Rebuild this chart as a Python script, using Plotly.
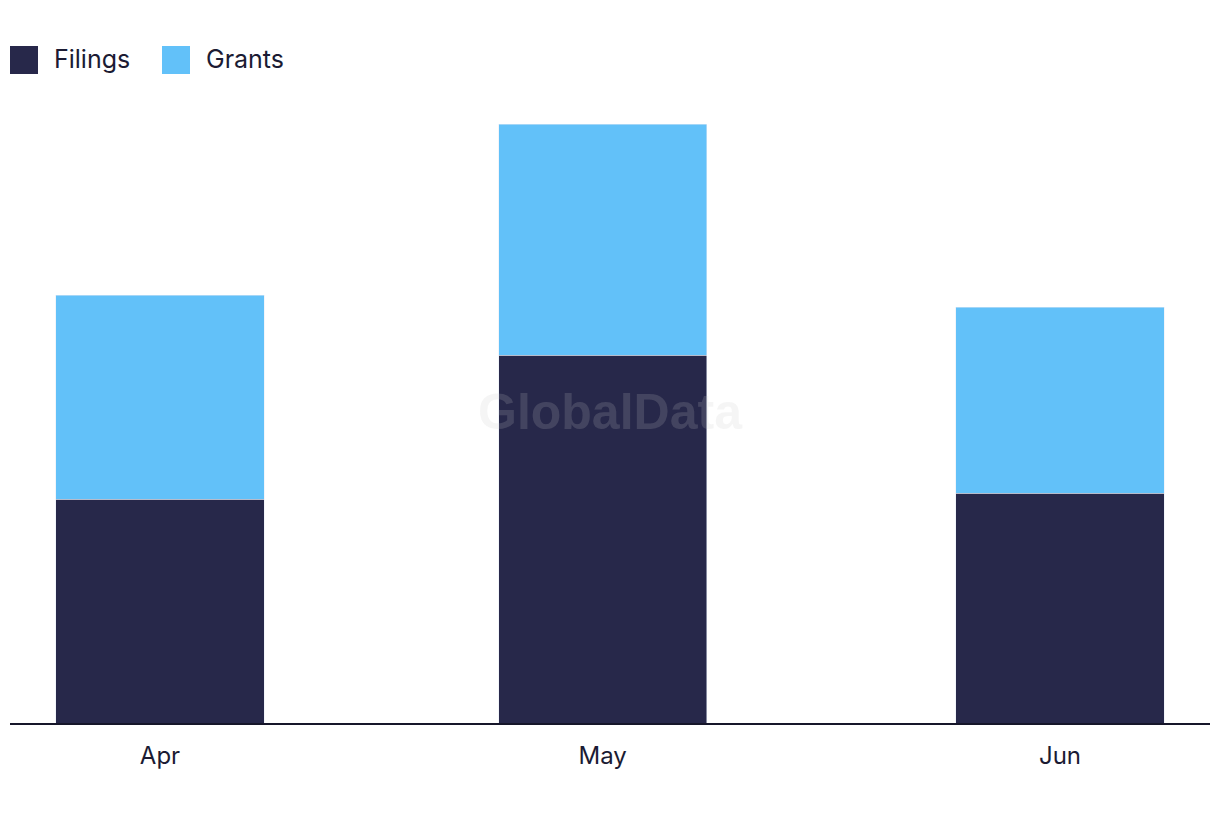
import plotly.graph_objects as go

months = ["2024-04-01", "2024-05-01", "2024-06-01"]
filings = [56, 92, 57.5]
grants = [51, 57.75, 46.5]

series_names = ["Filings", "Grants"]
colors = ["#27284A", "#62C1F9"]

DAY_MS = 86400000
bar_width = 14.1 * DAY_MS

fig = go.Figure()
fig.add_trace(go.Bar(x=months, y=filings, name=series_names[0], marker_color=colors[0],
                     width=bar_width, showlegend=False))
fig.add_trace(go.Bar(x=months, y=grants, name=series_names[1], marker_color=colors[1],
                     width=bar_width, showlegend=False))

font_family = "Inter, Lato, sans-serif"
text_color = "#1B1B33"

# custom legend with large squares (plot area spans page x 10..1210, y 100..723)
legend_x = [10, 162]
for i, (nm, col) in enumerate(zip(series_names, colors)):
    x0 = legend_x[i]
    fig.add_shape(type="rect", xref="paper", yref="paper",
                  x0=(x0 - 10) / 1200, x1=(x0 + 18) / 1200,
                  y0=(723 - 74) / 623, y1=(723 - 46) / 623,
                  fillcolor=col, line=dict(width=0))
    fig.add_annotation(xref="paper", yref="paper",
                       x=(x0 + 32) / 1200, y=(723 - 59) / 623,
                       xanchor="left", yanchor="middle", showarrow=False,
                       text=nm, font=dict(family=font_family, size=25, color=text_color))

# watermark
fig.add_annotation(xref="paper", yref="paper", x=(610 - 10) / 1200, y=(723 - 412) / 623,
                   text="<b>GlobalData</b>", showarrow=False,
                   font=dict(family="Liberation Sans, Arial, sans-serif", size=50,
                             color="rgba(200,200,200,0.18)"))

fig.update_layout(
    barmode="stack",
    width=1220, height=822,
    margin=dict(l=2, r=18, t=92, b=107),
    paper_bgcolor="white", plot_bgcolor="white",
    font=dict(family=font_family, color=text_color),
    xaxis=dict(
        type="date",
        range=["2024-03-21 20:00", "2024-06-11 04:00"],
        tickvals=months, tickformat="%b",
        ticks="outside", ticklen=10, tickcolor="rgba(0,0,0,0)",
        tickfont=dict(family=font_family, size=24, color=text_color),
        showgrid=False, zeroline=False,
        showline=True, linecolor="#16162A", linewidth=2,
    ),
    yaxis=dict(range=[0, 155.75], visible=False, showgrid=False, zeroline=False),
)

fig.write_html("out.html")
